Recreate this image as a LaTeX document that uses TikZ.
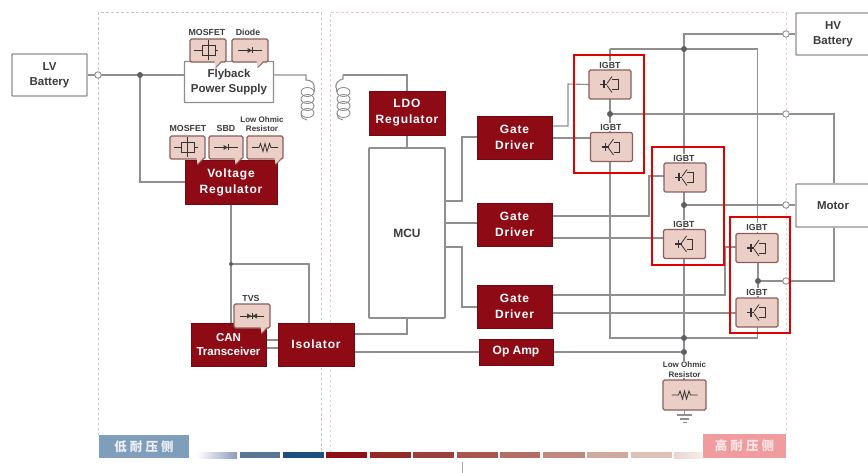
\documentclass[tikz,border=0pt]{standalone}
\usepackage{fontspec}
\setmainfont{Liberation Sans}
\newfontfamily\wfont[LetterSpace=7]{Liberation Sans}
\newfontfamily\cjkf[LetterSpace=25]{Noto Sans CJK SC}
\usetikzlibrary{calc}
\definecolor{dred}{HTML}{8E0B15}
\definecolor{wire}{HTML}{8F8F8F}
\definecolor{partf}{HTML}{EBCFC6}
\definecolor{partd}{HTML}{8C5F5C}
\definecolor{txt}{HTML}{3C3C3C}
\definecolor{jn}{HTML}{5C6066}
\definecolor{tagb}{HTML}{7F9EB9}
\definecolor{tagr}{HTML}{F09C9E}
\definecolor{zonel}{HTML}{C4C8CC}
\definecolor{zoner}{HTML}{F2C6CC}
\definecolor{bb1}{HTML}{8A9CBB}
\definecolor{bb2}{HTML}{5A7596}
\definecolor{bb3}{HTML}{1D4F7F}
\definecolor{bcl}{HTML}{EBD5CE}
\tikzset{
  redbox/.style={fill=dred,draw=dred!80!black,line width=.6pt,inner sep=0pt,text=white,align=center,
    font=\fontsize{12}{16}\selectfont\wfont\bfseries},
  whitebox/.style={fill=white,draw=wire,line width=1.4pt,inner sep=0pt,text=txt,align=center,rounded corners=.6pt,
    font=\fontsize{11.5}{15}\selectfont\bfseries},
  partbox/.style={fill=partf,draw=partd,line width=1.2pt,rounded corners=1.5pt,inner sep=0pt},
  lab/.style={inner sep=1pt,fill=white,text=txt,align=center,font=\fontsize{8.8}{9.5}\selectfont\bfseries},
  smalllab/.style={inner sep=1pt,fill=white,text=txt,align=center,font=\fontsize{8}{9.5}\selectfont\bfseries},
  wireline/.style={draw=wire,line width=1.1pt},
  dot/.style={circle,fill=jn,inner sep=0pt,minimum size=6pt},
  opendot/.style={circle,fill=white,draw=wire,line width=.9pt,inner sep=0pt,minimum size=6.5pt},
  alert/.style={draw=red!90!black,line width=2.6pt,fill=none},
  zone/.style={line width=1pt,dash pattern=on 2.5pt off 2.5pt},
  sym/.style={draw=txt!85!black,line width=.8pt},
  tagbox/.style={inner sep=0pt,font=\fontsize{12.5}{14}\selectfont\cjkf\bfseries},
  igbtsym/.pic={
    \draw[sym,line width=1.4pt] (-10,0)--(-3,0);
    \draw[sym,line width=1.4pt] (-6,-4)--(-6,4);
    \draw[sym] (-3,-1)--(2,-8);
    \draw[sym] (-3,1)--(2,8);
    \draw[sym] (2,-5)--(8,-5)--(8,5)--(2,5);
  },
  mosfetsym/.pic={
    \draw[sym] (-14,0)--(-6,0);
    \draw[sym,fill=partf] (-6,-5) rectangle (7,5);
    \draw[sym] (0,-10)--(0,10);
    \draw[sym] (7,0)--(10,0);
  },
  diodesym/.pic={
    \draw[sym] (-12,0)--(12,0);
    \fill[txt] (-2.5,-2.5)--(-2.5,2.5)--(2,0)--cycle;
    \draw[sym] (2.5,-3)--(2.5,3);
  },
  tvssym/.pic={
    \draw[sym] (-12,0)--(12,0);
    \fill[txt] (-5,-2.5)--(-5,2.5)--(-.5,0)--cycle;
    \fill[txt] (5,-2.5)--(5,2.5)--(.5,0)--cycle;
    \draw[sym] (0,-3)--(0,3);
  },
  ressym/.pic={
    \draw[sym] (-13,0)--(-6,0)--(-4.5,-4)--(-2,4)--(0,-4)--(2,4)--(4.5,-4)--(6,0)--(13,0);
  },
}
\newcommand{\tailat}[2]{%
  \fill[partf] ($(#1.south east)+(#2,-1.5)$)--($(#1.south east)+(#2+6,-1.5)$)--($(#1.south east)+(#2+1,5)$)--cycle;
  \draw[partd,line width=.8pt] ($(#1.south east)+(#2+6,0)$)--($(#1.south east)+(#2+1,5)$);
}
\begin{document}
\begin{tikzpicture}[x=1pt,y=-1pt]
\useasboundingbox (0,0) rectangle (868,473);
\fill[white] (0,0) rectangle (868,473);

% zones
\draw[zone,draw=zonel] (98,435)--(98,13)--(321,13)--(321,452);
\draw[zone,draw=zoner] (330,452)--(330,13)--(786,13)--(786,434);

% end boxes
\node[whitebox,minimum width=75pt,minimum height=42pt] (lv) at (49.5,75) {LV\\Battery};
\node[whitebox,minimum width=74pt,minimum height=42pt] (hv) at (833,34) {HV\\Battery};
\node[whitebox,minimum width=74pt,minimum height=43pt] (motor) at (833,205.5) {Motor};
\coordinate (j1) at (140,75);
\coordinate (c1top) at (306,75);
\coordinate (c2top) at (343,75);
\coordinate (j2) at (231,264);
\coordinate (jhv) at (684,49);
\coordinate (htop) at (684,34);
\coordinate (jm1) at (610,114);
\coordinate (jm2) at (684,205);
\coordinate (jm3) at (758,281);
\coordinate (jb1) at (684,338);
\coordinate (jb2) at (684,352);
\coordinate (oh) at (786,34);
\coordinate (om1) at (786,114);
\coordinate (om2) at (786,205);
\coordinate (om3) at (786,281);
\coordinate (olv) at (98,75);

% boxes over the wires come later; these anchor the wires
\path
 (229,82) node[minimum width=89pt,minimum height=41pt,inner sep=0pt] (fly) {}
 (231,182) node[minimum width=92pt,minimum height=44pt,inner sep=0pt] (vr) {}
 (407,113) node[minimum width=76pt,minimum height=44pt,inner sep=0pt] (ldo) {}
 (407,233) node[minimum width=76pt,minimum height=170pt,inner sep=0pt] (mcu) {}
 (514.5,137.5) node[minimum width=75pt,minimum height=43pt,inner sep=0pt] (gd1) {}
 (514.5,224.5) node[minimum width=75pt,minimum height=43pt,inner sep=0pt] (gd2) {}
 (514.5,306.5) node[minimum width=75pt,minimum height=43pt,inner sep=0pt] (gd3) {}
 (516,352) node[minimum width=74pt,minimum height=26pt,inner sep=0pt] (op) {}
 (228.5,344.5) node[minimum width=75pt,minimum height=43pt,inner sep=0pt] (can) {}
 (316,344.5) node[minimum width=76pt,minimum height=43pt,inner sep=0pt] (iso) {}
 (610,84.5) node[minimum width=42pt,minimum height=29pt,inner sep=0pt] (q1) {}
 (611.5,147) node[minimum width=43pt,minimum height=30pt,inner sep=0pt] (q2) {}
 (685,177.5) node[minimum width=42pt,minimum height=29pt,inner sep=0pt] (q3) {}
 (684.5,244) node[minimum width=43pt,minimum height=30pt,inner sep=0pt] (q4) {}
 (757,248) node[minimum width=42pt,minimum height=30pt,inner sep=0pt] (q5) {}
 (757,312.5) node[minimum width=42pt,minimum height=29pt,inner sep=0pt] (q6) {}
 (684.5,395) node[minimum width=43pt,minimum height=30pt,inner sep=0pt] (rs) {};

% wires
\begin{scope}[wireline]
\draw (lv.east|-olv)--(fly.west|-olv);
\draw (j1)--(j1|-vr.west)--(vr.west);
\draw (fly.east|-c1top)--(c1top)--(306,80) .. controls (312,80) and (315,84) .. (314,88);
\draw (c2top)--(ldo.north|-c2top)--(ldo.north);
\draw (c2top)--(343,79) .. controls (338,80) and (335,84) .. (336,88);
\draw (ldo.south)--(mcu.north);
\draw (vr.south-|j2)--(j2)--(j2|-can.north);
\draw (j2)--(309,264)--(iso.north-|309,0);
\draw (can.east|-0,340)--(iso.west|-0,340);
\draw (can.east|-0,348)--(iso.west|-0,348);
\draw (iso.east|-0,334)--(407,334)--(mcu.south);
\draw (iso.east|-0,352)--(op.west|-0,352);
\draw (mcu.east|-0,201)--(462,201)--(462,137)--(gd1.west|-0,137);
\draw (mcu.east|-0,223)--(gd2.west|-0,223);
\draw (mcu.east|-0,247)--(462,247)--(462,307)--(gd3.west|-0,307);
\draw (gd1.east|-0,126)--(568,126)--(568,84)--(q1.west);
\draw (gd1.east|-0,138)--(q2.west|-0,138);
\draw (gd2.east|-0,216)--(649,216)--(649,176)--(q3.west|-0,176);
\draw (gd2.east|-0,238)--(q4.west|-0,238);
\draw (gd3.east|-0,295)--(725,295)--(725,247)--(q5.west|-0,247);
\draw (gd3.east|-0,313)--(q6.west|-0,313);
\draw (op.east)--(jb2);
\draw (oh)--(htop)--(jhv)--(q3.north-|jhv);
\draw (oh)--(hv.west|-oh);
\draw (q3.south-|jhv)--(q4.north-|jhv);
\draw (q4.south-|jhv)--(rs.north-|jhv);
\draw (610,49)--(757.5,49);
\draw (610,49)--(q1.north-|610,0);
\draw (757.5,49)--(q5.north-|757.5,0);
\draw (q1.south-|jm1)--(jm1)--(q2.north-|jm1);
\draw (q2.south-|jm1)--(610,338)--(757.5,338)--(q6.south-|757.5,0);
\draw (q5.south-|jm3)--(jm3)--(q6.north-|jm3);
\draw (jm1)--(834,114)--(motor.north-|834,0);
\draw (jm2)--(motor.west|-jm2);
\draw (jm3)--(834,281)--(motor.south-|834,0);
% ground
\draw (rs.south)--(684.5,415);
\draw (677,415)--(692,415);
\draw (680,419)--(689,419);
\draw (682.5,422.5)--(686.5,422.5);
\end{scope}

% coils
\begin{scope}[draw=wire,line width=.9pt]
\foreach \yy in {92,99,106,113}{
  \draw (307.5,\yy) ellipse [x radius=6.5pt,y radius=4.5pt];
  \draw (343.5,\yy) ellipse [x radius=6.5pt,y radius=4.5pt];
}
\draw (314,88)--(314,92);
\draw (336,88)--(336,92);
\draw (301,113) .. controls (301,118) and (304,120) .. (307,120);
\draw (337,113) .. controls (337,118) and (340,120) .. (343,120);
\end{scope}

% boxes
\node[whitebox,minimum width=89pt,minimum height=41pt] (flyb) at (fly) {Flyback\\Power Supply};
\node[redbox,minimum width=92pt,minimum height=44pt] (vrb) at (vr) {Voltage\\Regulator};
\node[redbox,minimum width=76pt,minimum height=44pt] (ldob) at (ldo) {LDO\\Regulator};
\node[whitebox,line width=1.7pt,minimum width=76pt,minimum height=170pt,font=\fontsize{12}{15}\selectfont\bfseries] (mcub) at (mcu) {MCU};
\node[redbox,minimum width=75pt,minimum height=43pt] (gd1b) at (gd1) {Gate\\Driver};
\node[redbox,minimum width=75pt,minimum height=43pt] (gd2b) at (gd2) {Gate\\Driver};
\node[redbox,minimum width=75pt,minimum height=43pt] (gd3b) at (gd3) {Gate\\Driver};
\node[redbox,minimum width=74pt,minimum height=26pt,font=\fontsize{12}{15}\selectfont\bfseries] (opb) at (op) {Op Amp};
\node[redbox,minimum width=75pt,minimum height=43pt,font=\fontsize{11.5}{14.5}\selectfont\bfseries] (canb) at (can) {CAN\\Transceiver};
\node[redbox,minimum width=76pt,minimum height=43pt] (isob) at (iso) {Isolator};

% dots
\node[opendot] (d1) at (olv) {};
\node[opendot] (d2) at (oh) {};
\node[opendot] (d3) at (om1) {};
\node[opendot] (d4) at (om2) {};
\node[opendot] (d5) at (om3) {};
\node[dot] (d6) at (j1) {};
\node[dot,minimum size=4pt] (d7) at (j2) {};
\node[dot] (d8) at (jhv) {};
\node[dot] (d9) at (jm1) {};
\node[dot] (d10) at (jm2) {};
\node[dot] (d11) at (jm3) {};
\node[dot] (d12) at (jb1) {};
\node[dot] (d13) at (jb2) {};

% semiconductors
\foreach \n/\t in {q1/i1,q2/i2,q3/i3,q4/i4,q5/i5,q6/i6}{
  \node[partbox,minimum width=42pt,minimum height=29pt] (\t) at (\n) {};
  \pic at (\n) {igbtsym};
}
\node[lab] (l1) at (610,65) {IGBT};
\node[lab] (l2) at (611,127) {IGBT};
\node[lab] (l3) at (684,158) {IGBT};
\node[lab] (l4) at (684,224) {IGBT};
\node[lab] (l5) at (757,227.5) {IGBT};
\node[lab] (l6) at (757,292) {IGBT};

% alert frames
\node[alert,minimum width=70pt,minimum height=118pt,inner sep=0pt] (r1) at (609,114) {};
\node[alert,minimum width=72pt,minimum height=118pt,inner sep=0pt] (r2) at (688,206) {};
\node[alert,minimum width=60pt,minimum height=116pt,inner sep=0pt] (r3) at (760,275) {};

% resistor bottom
\node[partbox,minimum width=43pt,minimum height=30pt] (rsb) at (rs) {};
\pic at (rs) {ressym};
\node[smalllab] (rl) at (684.5,369.5) {Low Ohmic\\Resistor};

% flyback parts
\node[partbox,minimum width=36pt,minimum height=23pt] (p1) at (208,50.5) {};
\tailat{p1}{-12}
\pic at (p1) {mosfetsym};
\node[partbox,minimum width=36pt,minimum height=23pt] (p2) at (250,50.5) {};
\tailat{p2}{-12}
\pic at (p2) {diodesym};
\node[lab] (pl1) at (207,32.5) {MOSFET};
\node[lab] (pl2) at (248,32.5) {Diode};

% regulator parts
\node[partbox,minimum width=35pt,minimum height=23pt] (p3) at (187.5,147.5) {};
\tailat{p3}{-9}
\pic at (p3) {mosfetsym};
\node[partbox,minimum width=34pt,minimum height=23pt] (p4) at (226,147.5) {};
\tailat{p4}{-9}
\pic at (p4) {diodesym};
\node[partbox,minimum width=36pt,minimum height=23pt] (p5) at (265,147.5) {};
\tailat{p5}{-9}
\pic at (p5) {ressym};
\node[lab] (pl3) at (188,128.5) {MOSFET};
\node[lab] (pl4) at (226,128.5) {SBD};
\node[smalllab] (pl5) at (262,124) {Low Ohmic\\Resistor};

% TVS
\node[partbox,minimum width=36pt,minimum height=24pt] (p6) at (252,316) {};
\tailat{p6}{-10}
\pic at (p6) {tvssym};
\node[lab] (pl6) at (251,298.5) {TVS};

% tags
\node[tagbox,fill=tagb,text=white!85!tagb,minimum width=90pt,minimum height=23.5pt] (t1) at (144,446.5) {低耐压侧};
\node[tagbox,fill=tagr,text=white!75!tagr,minimum width=83pt,minimum height=24pt] (t2) at (744.5,446) {高耐压侧};

% gradient bar
\shade[left color=white,right color=bb1] (197,452) rectangle (237,458);
\fill[bb2] (239.5,452) rectangle (280,458);
\fill[bb3] (282.5,452) rectangle (324,458);
\foreach \a/\b/\c in {326/367/8E1016,369.5/411/952926,413/454/9C3E39,457/498/A8554D,500/540/B46D64,543/585/BF897F,587/628/D0A99E,631/672/DDC0B7}{
  \definecolor{bc}{HTML}{\c}
  \fill[bc] (\a,452) rectangle (\b,458);
}
\shade[left color=bcl,right color=white!60!bcl] (674,452) rectangle (703,458);
\draw[black!35,line width=.8pt] (462,462)--(462,473);
\end{tikzpicture}
\end{document}
